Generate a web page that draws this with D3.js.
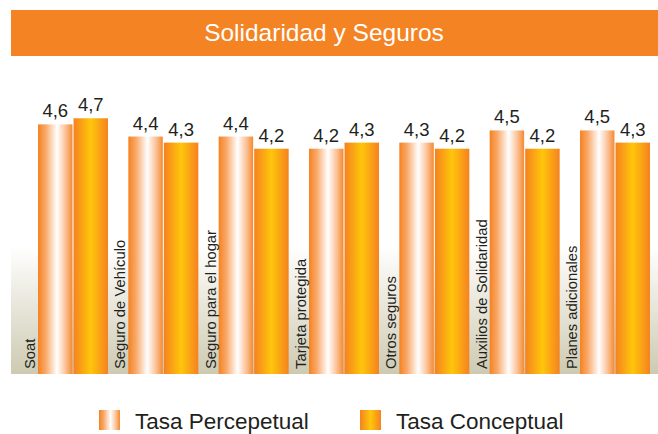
<!DOCTYPE html>
<html>
<head>
<meta charset="utf-8">
<script src="https://cdn.jsdelivr.net/npm/d3@7"></script>
<style>
  body { margin: 0; background: #fff; }
  svg { display: block; font-family: "Liberation Sans", Arial, sans-serif; }
</style>
</head>
<body>
<div id="chart"></div>
<script>
const categories = ["Soat", "Seguro de Vehículo", "Seguro para el hogar", "Tarjeta protegida",
    "Otros seguros", "Auxilios de Solidaridad", "Planes adicionales"];
const series = ["Tasa Percepetual", "Tasa Conceptual"];
const perceptual = [4.6, 4.4, 4.4, 4.2, 4.3, 4.5, 4.5];
const conceptual = [4.7, 4.3, 4.2, 4.3, 4.2, 4.2, 4.3];

const width = 658, height = 434;
const baseY = 374;

const data = categories.map((c, i) => ({ cat: c, values: [perceptual[i], conceptual[i]] }));

const svg = d3.select("#chart").append("svg")
    .attr("width", width).attr("height", height);

const defs = svg.append("defs");

// degradado de las barras
const g1 = defs.append("linearGradient").attr("id", "gradP");
[[0, "#f58220"], [0.22, "#f9a868"], [0.55, "#ffffff"], [0.8, "#fbc298"], [1, "#f58a30"]]
    .forEach(s => g1.append("stop").attr("offset", s[0]).attr("stop-color", s[1]));

const g2 = defs.append("linearGradient").attr("id", "gradC");
[[0, "#f58220"], [0.5, "#ffc60b"], [1, "#f58220"]]
    .forEach(s => g2.append("stop").attr("offset", s[0]).attr("stop-color", s[1]));

const gBg = defs.append("linearGradient").attr("id", "gradBg")
    .attr("x1", 0).attr("y1", 0).attr("x2", 0).attr("y2", 1);
gBg.append("stop").attr("offset", 0).attr("stop-color", "#ffffff");
gBg.append("stop").attr("offset", 1).attr("stop-color", "#cdcab2");

// fondo
svg.append("rect")
    .attr("x", 11).attr("y", 246).attr("width", width - 11).attr("height", baseY - 246)
    .attr("fill", "url(#gradBg)");

// titulo
svg.append("rect")
    .attr("x", 11).attr("y", 10).attr("width", width - 11).attr("height", 46)
    .attr("fill", "#f48423");
svg.append("text")
    .attr("x", 324).attr("y", 41)
    .attr("text-anchor", "middle")
    .attr("fill", "white")
    .attr("font-size", 24.5)
    .text("Solidaridad y Seguros");

// escalas
const x0 = d3.scaleBand().domain(categories).range([38, 650]).paddingInner(0.225).paddingOuter(0);
const x1 = d3.scaleBand().domain(series).range([0, x0.bandwidth()]).paddingInner(0.03);
const y = d3.scaleLinear().domain([0.5, 5]).range([baseY, baseY - 274]);

const groups = svg.append("g").selectAll("g")
    .data(data)
    .enter()
    .append("g")
    .attr("transform", d => `translate(${x0(d.cat)},0)`);

groups.selectAll("rect")
    .data(d => d.values.map((v, i) => ({ s: series[i], v: v })))
    .enter()
    .append("rect")
    .attr("x", d => x1(d.s))
    .attr("y", d => y(d.v))
    .attr("width", x1.bandwidth())
    .attr("height", d => baseY - y(d.v))
    .attr("fill", (d, i) => i === 0 ? "url(#gradP)" : "url(#gradC)");

groups.selectAll(".val")
    .data(d => d.values.map((v, i) => ({ s: series[i], v: v })))
    .enter()
    .append("text")
    .attr("class", "val")
    .attr("x", d => x1(d.s) + x1.bandwidth() / 2)
    .attr("y", d => y(d.v) - 7)
    .attr("text-anchor", "middle")
    .attr("font-size", 18.5)
    .attr("fill", "#231f20")
    .text(d => d3.format(".1f")(d.v).replace(".", ","));

// etiquetas verticales
groups.append("text")
    .attr("transform", "translate(-3,369) rotate(-90)")
    .attr("font-size", 14.8)
    .attr("fill", "#231f20")
    .text(d => d.cat);

// leyenda
const legend = svg.append("g");
const legX = [99, 360];
series.forEach((s, i) => {
    legend.append("rect")
        .attr("x", legX[i]).attr("y", 410).attr("width", 21).attr("height", 20)
        .attr("fill", i === 0 ? "url(#gradP)" : "url(#gradC)");
    legend.append("text")
        .attr("x", legX[i] + 36).attr("y", 429)
        .attr("font-size", 22.5)
        .attr("fill", "#231f20")
        .text(s);
});
</script>
</body>
</html>
